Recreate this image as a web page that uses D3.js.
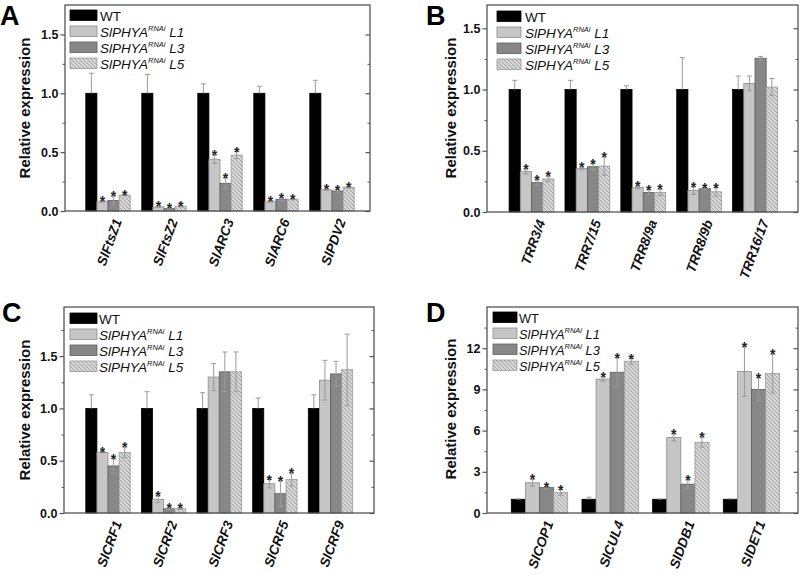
<!DOCTYPE html>
<html><head><meta charset="utf-8">
<script src="https://cdnjs.cloudflare.com/ajax/libs/d3/7.8.5/d3.min.js"></script>
<style>body{margin:0;background:#fff}svg{display:block}text{font-family:Arial,"Liberation Sans",sans-serif}</style>
</head><body><svg id="c" width="800" height="574"></svg>
<script>
// ---------- DATA ----------
const seriesNames = ["WT", "L1", "L3", "L5"];
// Panel A
const genesA = ["SlFtsZ1", "SlFtsZ2", "SlARC3", "SlARC6", "SlPDV2"];
const wtA = [1, 1, 1, 1, 1];
const wtErrA = [0.17, 0.16, 0.08, 0.06, 0.11];
const l1A = [0.08, 0.035, 0.44, 0.08, 0.18];
const l1ErrA = [0.005, 0.005, 0.035, 0.005, 0.005];
const l3A = [0.09, 0.02, 0.235, 0.10, 0.17];
const l3ErrA = [0.035, 0.005, 0.045, 0.01, 0.01];
const l5A = [0.135, 0.04, 0.475, 0.10, 0.20];
const l5ErrA = [0.005, 0.005, 0.03, 0.005, 0.005];
const starsA = [true, true, true, true, true];
const ticksA = [0, 0.5, 1.0, 1.5];
// Panel B
const genesB = ["TRR3/4", "TRR7/15", "TRR8/9a", "TRR8/9b", "TRR16/17"];
const wtB = [1, 1, 1, 1, 1];
const wtErrB = [0.075, 0.075, 0.03, 0.26, 0.11];
const l1B = [0.33, 0.355, 0.20, 0.175, 1.05];
const l1ErrB = [0.02, 0.01, 0.01, 0.03, 0.06];
const l3B = [0.24, 0.37, 0.16, 0.19, 1.255];
const l3ErrB = [0.02, 0.025, 0.02, 0.01, 0.015];
const l5B = [0.27, 0.375, 0.16, 0.165, 1.02];
const l5ErrB = [0.02, 0.075, 0.025, 0.035, 0.07];
const starsB = [true, true, true, true, false];
const ticksB = [0, 0.5, 1.0, 1.5];
// Panel C
const genesC = ["SlCRF1", "SlCRF2", "SlCRF3", "SlCRF5", "SlCRF9"];
const wtC = [1, 1, 1, 1, 1];
const wtErrC = [0.13, 0.16, 0.15, 0.10, 0.13];
const l1C = [0.58, 0.13, 1.30, 0.28, 1.27];
const l1ErrC = [0.005, 0.03, 0.13, 0.04, 0.19];
const l3C = [0.45, 0.04, 1.35, 0.185, 1.33];
const l3ErrC = [0.07, 0.005, 0.19, 0.12, 0.12];
const l5C = [0.58, 0.04, 1.35, 0.32, 1.37];
const l5ErrC = [0.05, 0.005, 0.19, 0.06, 0.34];
const starsC = [true, true, false, true, false];
const ticksC = [0, 0.5, 1.0, 1.5];
// Panel D
const genesD = ["SlCOP1", "SlCUL4", "SlDDB1", "SlDET1"];
const wtD = [1, 1, 1, 1];
const wtErrD = [0.02, 0.15, 0.02, 0.03];
const l1D = [2.2, 9.75, 5.5, 10.3];
const l1ErrD = [0.25, 0.15, 0.25, 1.8];
const l3D = [1.85, 10.25, 2.1, 9.0];
const l3ErrD = [0.07, 1.05, 0.3, 0.85];
const l5D = [1.5, 11.05, 5.15, 10.15];
const l5ErrD = [0.2, 0.2, 0.35, 1.4];
const starsD = [true, true, true, true];
const ticksD = [0, 3, 6, 9, 12];

// ---------- DRAWING ----------
const svg = d3.select("#c");
svg.append("rect").attr("width", 800).attr("height", 574).attr("fill", "#fff");
const defs = svg.append("defs");
const pat = defs.append("pattern").attr("id", "hatch").attr("patternUnits", "userSpaceOnUse")
  .attr("width", 4).attr("height", 4);
pat.append("rect").attr("width", 4).attr("height", 4).attr("fill", "#d4d4d4");
pat.append("path").attr("d", "M-1,-1L5,5M3,-1L5,1M-1,3L1,5").attr("stroke", "#929292").attr("stroke-width", 0.7);

const fills = { WT: "#000", L1: "#c6c6c6", L3: "#878787", L5: "url(#hatch)" };
const strokes = { WT: "#000", L1: "#8c8c8c", L3: "#5e5e5e", L5: "#9a9a9a" };

function panel(cfg) {
  const { letter, genes, series, errs, stars, ticks, minorStep, ymax, fmt,
          left, right, top, bottom, cx0, cx1, bw, legend, letterPos, ylab } = cfg;
  const g = svg.append("g");
  const y = d3.scaleLinear().domain([0, ymax]).range([bottom, top]);
  const x = d3.scaleLinear().domain([0, genes.length - 1]).range([cx0, cx1]);
  const minor = d3.range(minorStep, ymax, minorStep).filter(v => !ticks.some(t => Math.abs(t - v) < 1e-9));

  // bars
  series.forEach((vals, si) => {
    const name = seriesNames[si];
    g.selectAll(null).data(vals).join("rect")
      .attr("x", (d, i) => x(i) - 2 * bw + si * bw)
      .attr("y", d => y(d))
      .attr("width", bw)
      .attr("height", d => bottom - y(d))
      .attr("fill", fills[name])
      .attr("stroke", strokes[name]).attr("stroke-width", 0.8);
  });
  // error bars
  series.forEach((vals, si) => {
    const e = errs[si];
    vals.forEach((v, i) => {
      const cx = x(i) - 2 * bw + si * bw + bw / 2;
      const hi = y(v + e[i]);
      const lo = si === 0 ? y(v) : y(Math.max(0, v - e[i]));
      g.append("line").attr("x1", cx).attr("x2", cx).attr("y1", hi).attr("y2", lo)
        .attr("stroke", "#9a9a9a").attr("stroke-width", 1);
      g.append("line").attr("x1", cx - 2.5).attr("x2", cx + 2.5).attr("y1", hi).attr("y2", hi)
        .attr("stroke", "#9a9a9a").attr("stroke-width", 1);
      if (si > 0) {
        g.append("line").attr("x1", cx - 2.5).attr("x2", cx + 2.5).attr("y1", lo).attr("y2", lo)
          .attr("stroke", "#9a9a9a").attr("stroke-width", 1);
      }
      if (si > 0 && stars[i]) {
        g.append("text").attr("x", cx).attr("y", hi + 5).attr("text-anchor", "middle")
          .attr("font-size", 14).attr("font-weight", "bold").attr("fill", "#222").text("*");
      }
    });
  });

  // frame
  g.append("rect").attr("x", left).attr("y", top).attr("width", right - left).attr("height", bottom - top)
    .attr("fill", "none").attr("stroke", "#555").attr("stroke-width", 1.3);

  // left axis major + minor
  const ax = g.append("g").attr("transform", `translate(${left},0)`)
    .call(d3.axisLeft(y).tickValues(ticks).tickSize(4.5).tickPadding(2).tickFormat(d3.format(fmt)));
  ax.select(".domain").remove();
  ax.selectAll("line").attr("stroke", "#555").attr("stroke-width", 1.2);
  ax.selectAll("text").attr("font-size", 12.5).attr("font-weight", "bold").attr("fill", "#111")
    .style("font-family", "Arial, 'Liberation Sans', sans-serif");
  const axm = g.append("g").attr("transform", `translate(${left},0)`)
    .call(d3.axisLeft(y).tickValues(minor).tickSize(2.5).tickFormat(""));
  axm.select(".domain").remove();
  axm.selectAll("line").attr("stroke", "#555");
  // right axis inward
  const ar = g.append("g").attr("transform", `translate(${right},0)`)
    .call(d3.axisLeft(y).tickValues(ticks).tickSize(4.5).tickFormat(""));
  ar.select(".domain").remove();
  ar.selectAll("line").attr("stroke", "#555").attr("stroke-width", 1.2);
  const arm = g.append("g").attr("transform", `translate(${right},0)`)
    .call(d3.axisLeft(y).tickValues(minor).tickSize(2.5).tickFormat(""));
  arm.select(".domain").remove();
  arm.selectAll("line").attr("stroke", "#555");

  // x labels
  g.selectAll(null).data(genes).join("text")
    .attr("transform", (d, i) => `translate(${x(i) + 14},${bottom + 10}) rotate(-70)`)
    .attr("text-anchor", "end").attr("font-size", 13.5).attr("font-weight", "bold")
    .attr("font-style", "italic").attr("fill", "#111").text(d => d);

  // y label
  g.append("text").attr("transform", `translate(${ylab[0]},${ylab[1]}) rotate(-90)`)
    .attr("text-anchor", "middle").attr("font-size", 15).attr("font-weight", "bold")
    .attr("fill", "#111").text("Relative expression");

  // panel letter
  g.append("text").attr("x", letterPos[0]).attr("y", letterPos[1]).attr("font-size", 27)
    .attr("font-weight", "bold").attr("fill", "#000").text(letter);

  // legend
  seriesNames.forEach((name, si) => {
    const ly = legend.y + si * legend.step;
    g.append("rect").attr("x", legend.x).attr("y", ly).attr("width", legend.w).attr("height", 10.5)
      .attr("fill", fills[name]).attr("stroke", strokes[name]).attr("stroke-width", 0.8);
    const t = g.append("text").attr("x", legend.tx).attr("y", ly + 10.5).attr("font-size", legend.fs).attr("fill", "#111");
    if (si === 0) { t.text("WT"); }
    else {
      t.append("tspan").attr("font-style", "italic").text("SlPHYA");
      t.append("tspan").attr("font-style", "italic").attr("font-size", 7.5).attr("dy", -5.5).text("RNAi");
      t.append("tspan").attr("font-style", "italic").attr("dy", 5.5).text("\u00a0" + name);
    }
  });
}

panel({ letter: "A", genes: genesA, series: [wtA, l1A, l3A, l5A], errs: [wtErrA, l1ErrA, l3ErrA, l5ErrA],
  stars: starsA, ticks: ticksA, minorStep: 0.25, ymax: 1.75, fmt: ".1f",
  left: 65, right: 370, top: 5, bottom: 211, cx0: 108, cx1: 332, bw: 11.1,
  legend: { x: 70, y: 10, step: 16, w: 27, tx: 100, fs: 13.5 }, letterPos: [0, 25], ylab: [30, 108] });
panel({ letter: "B", genes: genesB, series: [wtB, l1B, l3B, l5B], errs: [wtErrB, l1ErrB, l3ErrB, l5ErrB],
  stars: starsB, ticks: ticksB, minorStep: 0.25, ymax: 1.69, fmt: ".1f",
  left: 487, right: 798, top: 5, bottom: 212, cx0: 531.5, cx1: 755, bw: 11.2,
  legend: { x: 497, y: 11, step: 16, w: 24, tx: 525, fs: 13.5 }, letterPos: [426, 25], ylab: [456, 108] });
panel({ letter: "C", genes: genesC, series: [wtC, l1C, l3C, l5C], errs: [wtErrC, l1ErrC, l3ErrC, l5ErrC],
  stars: starsC, ticks: ticksC, minorStep: 0.25, ymax: 1.97, fmt: ".1f",
  left: 64, right: 374, top: 307, bottom: 513, cx0: 108, cx1: 330.5, bw: 11.1,
  legend: { x: 70, y: 313, step: 16, w: 27, tx: 99, fs: 13.5 }, letterPos: [2, 322], ylab: [30, 410] });
panel({ letter: "D", genes: genesD, series: [wtD, l1D, l3D, l5D], errs: [wtErrD, l1ErrD, l3ErrD, l5ErrD],
  stars: starsD, ticks: ticksD, minorStep: 1.5, ymax: 15, fmt: "d",
  left: 487, right: 798, top: 307, bottom: 513, cx0: 539.5, cx1: 751.5, bw: 14.1,
  legend: { x: 493, y: 312, step: 16, w: 24, tx: 519, fs: 12.8 }, letterPos: [426, 322], ylab: [456, 409] });
</script></body></html>
